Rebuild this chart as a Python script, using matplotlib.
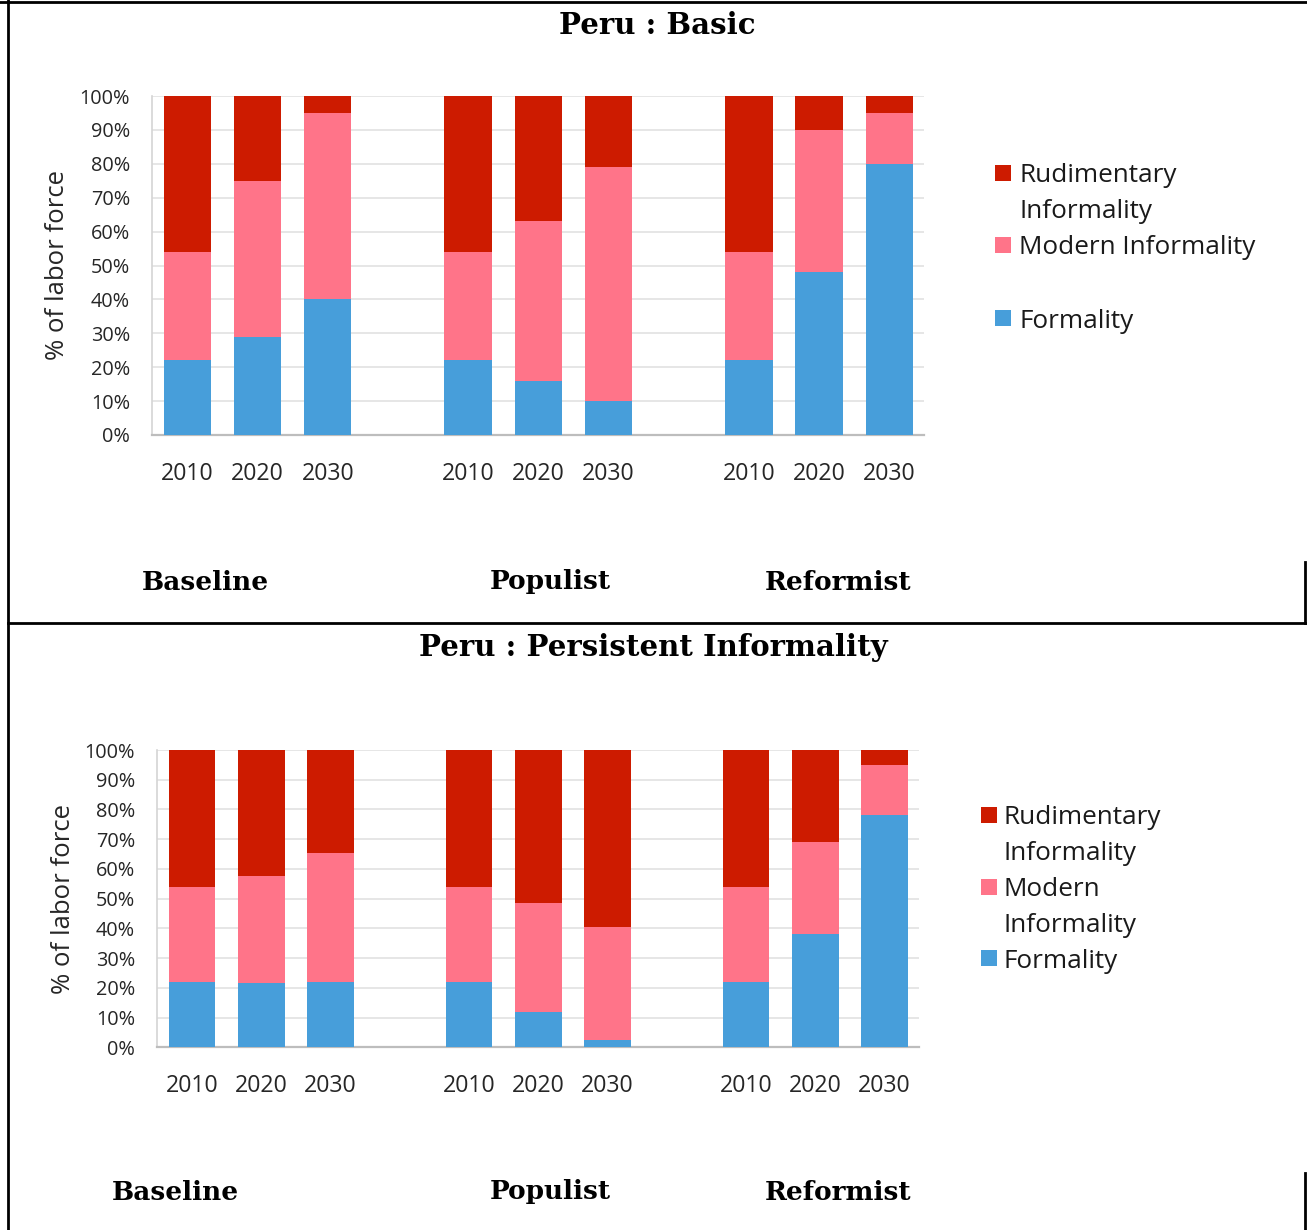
import matplotlib
matplotlib.use('Agg')
import matplotlib.pyplot as plt
from matplotlib.lines import Line2D
from matplotlib.patches import Rectangle

W_PX, H_PX = 1307, 1230
DPI = 100

# ---- data (% of labor force) --------------------------------------------
YEARS = ['2010', '2020', '2030']
SCENARIOS = ['Baseline', 'Populist', 'Reformist']

# bar order: Baseline 2010/2020/2030, Populist ..., Reformist ...
basic_formal = [22, 29, 40, 22, 16, 10, 22, 48, 80]
basic_modern = [32, 46, 55, 32, 47, 69, 32, 42, 15]
basic_rudim = [46, 25, 5, 46, 37, 21, 46, 10, 5]

persist_formal = [22, 21.5, 22, 22, 12, 2.5, 22, 38, 78]
persist_modern = [32, 36, 43.5, 32, 36.5, 38, 32, 31, 17]
persist_rudim = [46, 42.5, 34.5, 46, 51.5, 59.5, 46, 31, 5]

# ---- style ----------------------------------------------------------------
C_RUD = '#CD1B00'
C_MOD = '#FF7489'
C_FOR = '#479EDA'
C_GRID = '#E4E4E4'
SANS = 'Open Sans'
SERIF = 'DejaVu Serif'
BAR_W = 0.675


def fx(px):
    return px / W_PX


def fy(py):
    return 1 - py / H_PX


def panel(fig, box, formal, modern, rudim):
    """box = (left, top, right, bottom) in pixels."""
    l, t, r, b = box
    ax = fig.add_axes([fx(l), fy(b), fx(r) - fx(l), fy(t) - fy(b)])
    x = [g * (len(YEARS) + 1) + i
         for g in range(len(SCENARIOS)) for i in range(len(YEARS))]
    mid = [a + c for a, c in zip(formal, modern)]
    ax.bar(x, formal, width=BAR_W, color=C_FOR, zorder=3)
    ax.bar(x, modern, width=BAR_W, bottom=formal, color=C_MOD, zorder=3)
    ax.bar(x, rudim, width=BAR_W, bottom=mid, color=C_RUD, zorder=3)

    ax.set_xlim(-0.5, x[-1] + 0.5)
    ax.set_ylim(0, 100)
    ticks = list(range(0, 101, 10))
    ax.set_yticks(ticks)
    ax.set_yticklabels([f'{v}%' for v in ticks], fontsize=14.3,
                       family=SANS, color='#262626')
    ax.set_xticks(x)
    ax.set_xticklabels(YEARS * len(SCENARIOS), fontsize=16.7,
                       family=SANS, color='#262626')
    ax.tick_params(axis='y', length=0, pad=16)
    ax.tick_params(axis='x', length=0, pad=19.5)

    ax.yaxis.grid(True, color=C_GRID, lw=1.3)
    ax.set_axisbelow(True)
    for s in ('top', 'right'):
        ax.spines[s].set_visible(False)
    ax.spines['left'].set_color('#D4D4D4')
    ax.spines['left'].set_linewidth(1.2)
    ax.spines['bottom'].set_color('#BDBDBD')
    ax.spines['bottom'].set_linewidth(1.6)

    ax.set_ylabel('% of labor force', fontsize=18.5, family=SANS,
                  color='#262626')
    ax.yaxis.set_label_coords(-0.107, 0.5)
    return ax


def legend_block(fig, sq_x, txt_x, entries):
    """entries: (label, colour, y of first text line) ; lines 35 px apart."""
    for label, color, y in entries:
        fig.patches.append(Rectangle((fx(sq_x), fy(y + 5)), fx(16), 16 / H_PX,
                                     transform=fig.transFigure,
                                     facecolor=color, edgecolor='none'))
        for k, line in enumerate(label.split('\n')):
            fig.text(fx(txt_x), fy(y + 35 * k), line, fontsize=18.8,
                     family=SANS, color='#1a1a1a', ha='left', va='center')


def border(fig, x0, y0, x1, y1):
    fig.add_artist(Line2D([fx(x0), fx(x1)], [fy(y0), fy(y1)],
                          color='black', lw=2.0,
                          transform=fig.transFigure))


def draw():
    fig = plt.figure(figsize=(W_PX / DPI, H_PX / DPI), dpi=DPI)

    # table-cell borders
    border(fig, 0, 1.5, W_PX, 1.5)
    border(fig, 7.5, 0, 7.5, H_PX)
    border(fig, 7.5, 622.5, W_PX, 622.5)
    border(fig, 1305, 562, 1305, 622.5)
    border(fig, 1305, 1173, 1305, H_PX)

    # ---- Peru : Basic
    fig.text(fx(657), fy(26), 'Peru : Basic', fontsize=21, weight='bold',
             family=SERIF, ha='center', va='center')
    panel(fig, (152.3, 96, 924.4, 435),
          basic_formal, basic_modern, basic_rudim)
    legend_block(fig, 995, 1019, [
        ('Rudimentary\nInformality', C_RUD, 176),
        ('Modern Informality', C_MOD, 248),
        ('Formality', C_FOR, 321),
    ])
    for name, cx in zip(SCENARIOS, (205, 550, 838)):
        fig.text(fx(cx), fy(582), name, fontsize=19, weight='bold',
                 family=SERIF, ha='center', va='center')

    # ---- Peru : Persistent Informality
    fig.text(fx(653), fy(648), 'Peru : Persistent Informality', fontsize=21,
             weight='bold', family=SERIF, ha='center', va='center')
    panel(fig, (157.3, 750, 919.0, 1047.3),
          persist_formal, persist_modern, persist_rudim)
    legend_block(fig, 981, 1004, [
        ('Rudimentary\nInformality', C_RUD, 818),
        ('Modern\nInformality', C_MOD, 890),
        ('Formality', C_FOR, 961),
    ])
    for name, cx in zip(SCENARIOS, (175, 550, 838)):
        fig.text(fx(cx), fy(1192), name, fontsize=19, weight='bold',
                 family=SERIF, ha='center', va='center')

    fig.savefig('out.png', dpi=DPI, facecolor='white')
    plt.close(fig)


if __name__ == '__main__':
    draw()
